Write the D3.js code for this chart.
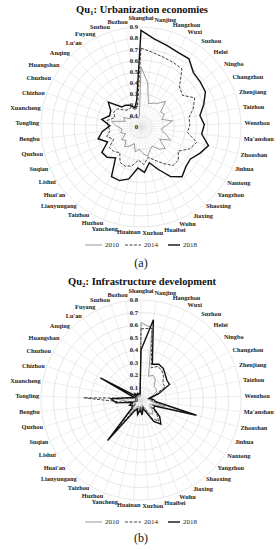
<!DOCTYPE html>
<html><head><meta charset="utf-8">
<script src="https://cdn.jsdelivr.net/npm/d3@7"></script>
<style>body{margin:0;background:#fff}svg{display:block}</style>
</head><body><svg id="c" width="280" height="550"></svg>
<script>
const cities = ["Shanghai","Nanjing","Hangzhou","Wuxi","Suzhou","Hefei","Ningbo","Changzhou","Zhenjiang","Taizhou","Wenzhou","Ma'anshan","Zhoushan","Jinhua","Nantong","Yangzhou","Shaoxing","Jiaxing","Wuhu","Huaibei","Xuzhou","Huainan","Yancheng","Huzhou","Taizhou","Lianyungang","Huai'an","Lishui","Suqian","Quzhou","Bengbu","Tongling","Xuancheng","Chizhou","Chuzhou","Huangshan","Anqing","Lu'an","Fuyang","Suzhou","Bozhou"];
const years = ["2010","2014","2018"];
const ticksA = ["0","0.1","0.2","0.3","0.4","0.5","0.6","0.7","0.8","0.9"];
const ticksB = ["0","0.1","0.2","0.3","0.4","0.5","0.6","0.7","0.8"];
const econ2010 = [.54,.40,.22,.24,.26,.32,.22,.24,.20,.29,.22,.18,.23,.29,.20,.29,.26,.20,.22,.27,.24,.20,.23,.16,.20,.23,.18,.21,.15,.19,.17,.22,.27,.15,.18,.12,.14,.10,.12,.08,.10];
const econ2014 = [.71,.68,.66,.65,.64,.50,.47,.55,.50,.44,.44,.42,.52,.48,.40,.45,.45,.38,.32,.28,.34,.30,.36,.38,.37,.30,.33,.34,.27,.32,.28,.30,.31,.25,.28,.27,.21,.19,.20,.16,.20];
const econ2018 = [.87,.80,.77,.75,.75,.68,.67,.66,.60,.54,.57,.55,.63,.58,.53,.54,.58,.52,.41,.33,.41,.37,.48,.52,.52,.36,.41,.42,.33,.40,.35,.28,.36,.30,.31,.37,.25,.24,.22,.18,.25];
const infra2010 = [.62,.58,.20,.22,.20,.15,.15,.14,.10,.05,.07,.08,.20,.08,.08,.12,.15,.12,.06,.04,.08,.05,.08,.05,.06,.15,.06,.05,.06,.04,.10,.20,.06,.04,.10,.03,.04,.03,.04,.03,.03];
const infra2014 = [.57,.58,.27,.30,.29,.26,.22,.22,.12,.06,.08,.10,.42,.10,.10,.17,.22,.17,.08,.05,.10,.06,.10,.07,.08,.30,.08,.06,.08,.05,.15,.46,.08,.05,.20,.04,.06,.04,.05,.04,.04];
const infra2018 = [.40,.65,.30,.32,.31,.28,.26,.26,.15,.07,.10,.12,.46,.12,.12,.20,.25,.20,.10,.07,.12,.08,.12,.08,.10,.42,.10,.08,.10,.07,.20,.24,.10,.06,.37,.05,.07,.05,.06,.05,.05];

const svg = d3.select("#c");
const serif = "'Liberation Serif','Times New Roman',serif";
const styles = [
  {stroke:"#9a9a9a", width:1, dash:null},
  {stroke:"#444", width:1, dash:"3,1.5"},
  {stroke:"#111", width:1.4, dash:null}
];

function radar(opt){
  const {cx, cy, R, max, ticks, series, title, sub, titleY, legendY, tagY, tag} = opt;
  const g = svg.append("g");
  const r = d3.scaleLinear().domain([0,max]).range([0,R]);
  const ang = d3.scaleLinear().domain([0,cities.length]).range([0,2*Math.PI]);
  const grid = g.append("g").attr("transform",`translate(${cx},${cy})`);
  ticks.forEach((t,i)=>{ if(+t>0) grid.append("circle").attr("r", r(+t)).attr("fill","none").attr("stroke","#d6d6d6").attr("stroke-width",0.6); });
  cities.forEach((c,i)=>{
    const a = ang(i);
    grid.append("line").attr("x1",0).attr("y1",0).attr("x2",R*Math.sin(a)).attr("y2",-R*Math.cos(a)).attr("stroke","#dcdcdc").attr("stroke-width",0.5);
  });
  // labels
  const fs = 6.3;
  cities.forEach((c,i)=>{
    const a = ang(i); const s=Math.sin(a), co=Math.cos(a);
    const rl = s<0 ? R+2+co : R+3.5+1.5*co;
    const x = rl*s, y = -rl*co;
    const t = grid.append("text").attr("text-anchor","middle").attr("font-family",serif).attr("font-weight","bold")
      .attr("font-size",fs).attr("fill","#222").text(c);
    const w = t.node().getComputedTextLength();
    const f = Math.max(-1, Math.min(1, s*5));
    const shift = -Math.sign(co)*Math.pow(Math.abs(co),10)*4;
    t.attr("x", x + f*w/2).attr("y", y + shift).attr("dy","0.35em");
  });
  // series
  const line = d3.lineRadial().angle((d,i)=>ang(i)).radius(d=>r(d)).curve(d3.curveLinearClosed);
  series.forEach((s,k)=>{
    grid.append("path").attr("d", line(s)).attr("fill","none").attr("stroke",styles[k].stroke)
      .attr("stroke-width",styles[k].width).attr("stroke-dasharray",styles[k].dash).attr("stroke-linejoin","miter");
  });
  // ticks
  ticks.forEach(t=>{
    grid.append("text").attr("x",-3).attr("y",-r(+t)).attr("dy","0.35em").attr("text-anchor","end")
      .attr("font-family",serif).attr("font-weight","bold").attr("font-size",6.6).attr("fill","#222").text(t);
  });
  // title
  const tt = g.append("text").attr("x",142).attr("y",titleY).attr("text-anchor","middle")
    .attr("font-family",serif).attr("font-weight","bold").attr("font-size",10.5).attr("fill","#111");
  tt.append("tspan").text("Qu");
  tt.append("tspan").attr("font-size",7).attr("dy",2).text(sub);
  tt.append("tspan").attr("dy",-2).text(": "+title);
  // legend
  const lx = [85,125,168], lw=[17,16,12];
  years.forEach((y,k)=>{
    g.append("line").attr("x1",lx[k]).attr("x2",lx[k]+lw[k]).attr("y1",legendY).attr("y2",legendY)
      .attr("stroke",styles[k].stroke).attr("stroke-width",styles[k].width).attr("stroke-dasharray",styles[k].dash);
    g.append("text").attr("x",lx[k]+lw[k]+3).attr("y",legendY).attr("dy","0.35em").attr("font-family",serif)
      .attr("font-size",7).attr("fill","#222").text(y);
  });
  g.append("text").attr("x",141).attr("y",tagY).attr("dy","0.35em").attr("text-anchor","middle")
    .attr("font-family",serif).attr("font-size",12).attr("fill","#111").text(tag);
}

radar({cx:141, cy:127, R:100, max:0.9, ticks:ticksA, series:[econ2010,econ2014,econ2018],
  title:"Urbanization economies", sub:"1", titleY:13, legendY:245, tagY:263, tag:"(a)"});
radar({cx:141, cy:400, R:100, max:0.8, ticks:ticksB, series:[infra2010,infra2014,infra2018],
  title:"Infrastructure development", sub:"2", titleY:285, legendY:522, tagY:538, tag:"(b)"});
</script></body></html>
